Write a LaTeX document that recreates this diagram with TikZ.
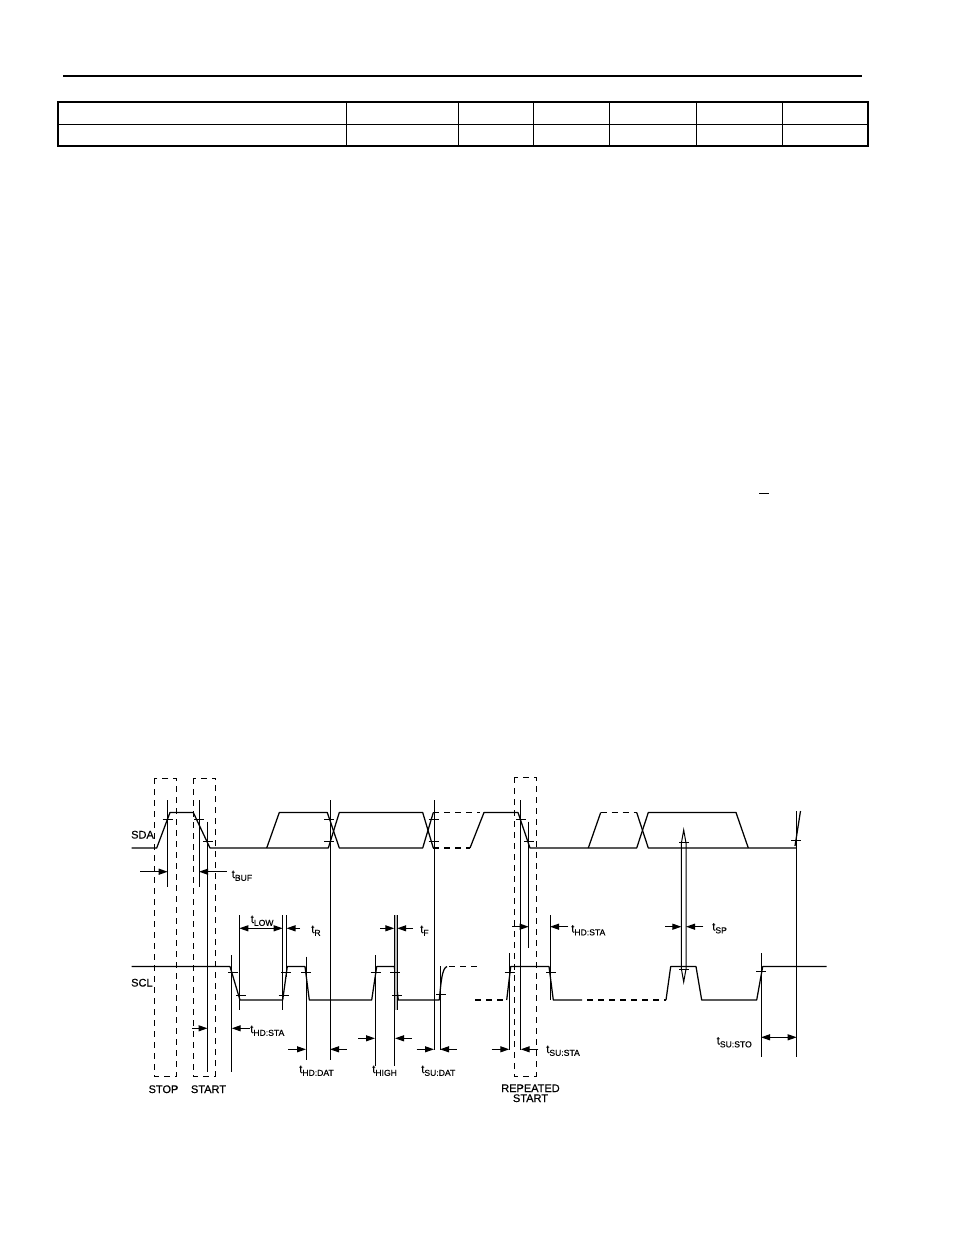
\documentclass[tikz,border=0pt]{standalone}
\usepackage{fontspec}
\setmainfont{Liberation Sans}
\newfontfamily\lblfont[FakeBold=0.4]{Liberation Sans}
\usetikzlibrary{arrows.meta}
\newcommand{\tlab}[1]{t\raisebox{-2.8pt}{\fontsize{8.6}{8.6}\selectfont #1}}
\begin{document}
\begin{tikzpicture}[x=1pt,y=-1pt,
 wave/.style={line width=1.25pt, line join=round},
 dwave/.style={line width=1.1pt, dash pattern=on 6pt off 5pt},
 vl/.style={line width=1pt},
 tickmk/.style={line width=1pt},
 dbox/.style={line width=1pt, dash pattern=on 6pt off 5pt},
 arr/.style={line width=1.1pt, -{Triangle[length=9pt,width=6pt]}},
 darr/.style={line width=1.1pt, {Triangle[length=9pt,width=6pt]}-{Triangle[length=9pt,width=6pt]}},
 lbl/.style={font=\lblfont\fontsize{11.5}{11.5}\selectfont, inner sep=0pt, anchor=base west},
 capt/.style={font=\lblfont\fontsize{11}{11}\selectfont, inner sep=0pt, anchor=base},
]
\useasboundingbox[fill=white] (0,0) rectangle (954,1235);

% header rule and empty table
\draw[line width=1.5pt] (63,76) -- (862,76);
\draw[line width=1.3pt] (58,102) rectangle (868,146);
\draw[line width=1pt] (58,124) -- (868,124);
\foreach \x in {346,458,533,609,696,782} \draw[line width=1pt] (\x,102) -- (\x,146);
\draw[line width=1pt] (759,493.5) -- (769,493.5);

% dashed boxes
\draw[dbox] (154,778) rectangle (176.7,1076);
\draw[dbox] (193.3,778) rectangle (215.5,1076);
\draw[dbox] (514.3,777) rectangle (536,1076);

% SDA
\draw[wave] (131.7,848) -- (156.7,848) -- (170,812.5) -- (193.3,812.5) -- (210,848) -- (328.3,848) -- (339.3,812.5) -- (422.7,812.5) -- (433.3,848);
\draw[wave] (266.7,848) -- (279.3,812.5) -- (327.3,812.5) -- (339.3,848) -- (422.7,848) -- (433.3,812.5);
\draw[dwave] (433.3,812.5) -- (480,812.5);
\draw[dwave] (433.3,848) -- (470,848);
\draw[wave] (470,848) -- (484,812.5) -- (518,812.5) -- (530,848) -- (636.7,848) -- (648.3,812.5) -- (736,812.5) -- (748.3,848);
\draw[wave] (588.3,848) -- (600.7,812.5);
\draw[dwave] (600.7,812.5) -- (636.7,812.5);
\draw[wave] (636.7,812.5) -- (648.3,848) -- (796.7,848);
\draw[wave] (795,846) -- (800.5,811);

% SCL
\draw[wave] (131.7,966.5) -- (230,966.5) -- (240,1000) -- (282.7,1000) -- (287.3,966.5) -- (305,966.5) -- (309.3,1000) -- (371.7,1000) -- (376.7,966.5) -- (394.3,966.5) -- (398.3,1000) -- (439.3,1000) .. controls (441,982) and (442,968) .. (447,966.5);
\draw[dwave] (449,966.5) -- (478,966.5);
\draw[dwave] (475,1000) -- (506.7,1000);
\draw[wave] (506.7,1000) -- (510.7,966.5) -- (549,966.5) -- (553.3,1000) -- (582,1000);
\draw[dwave] (587,1000) -- (666,1000);
\draw[wave] (666,1000) -- (670.7,966.5) -- (696,966.5) -- (701.7,1000) -- (756.7,1000) -- (762.7,966.5) -- (826.7,966.5);

% vertical reference lines
\fill[gray!55] (394.5,915) rectangle (397,1010);
\foreach \x/\a/\b in {167.7/800/887, 199/800/887, 207.5/821.7/1072, 231.7/955/1072, 239.3/915/1010, 282.7/915/1010, 286.3/915/977, 306/956.7/1060, 330/800/1060, 375/955/1066, 394.5/915/1066, 397/915/1010, 434/800/1050, 440/966/1050, 520.7/800/1050, 528.7/821.7/948, 550/915/1000, 761/953/1057, 796.7/811/1057}
  \draw[vl] (\x,\a) -- (\x,\b);
\draw[line width=1.5pt] (509.3,953) -- (509.3,1050);

% spike
\draw[line width=1pt, line join=miter] (683.7,830) -- (686,843) -- (686,969) -- (683.7,982) -- (681.4,969) -- (681.4,843) -- cycle;

% threshold ticks
\foreach \x/\y in {167.5/819.3, 199/819.3, 208/841.7, 329/819.3, 329/841.7, 433.5/819.3, 433.5/841.7, 521/819.3, 529/841.7, 684/842.7, 796/840,
  233.3/972.7, 241/995, 283.5/995, 286.3/972.7, 306/972.7, 375.5/972.7, 395/972.7, 397/995, 441/994, 509.5/972.7, 551/972.7, 684/969.3, 761/971.7}
  \draw[tickmk] (\x-5,\y) -- (\x+5,\y);

% timing arrows
\draw[arr] (140,871.7) -- (167.7,871.7);
\draw[arr] (226.7,871.7) -- (199,871.7);
\draw[darr] (239.3,928.3) -- (282.7,928.3);
\draw[arr] (300,928.3) -- (286.5,928.3);
\draw[arr] (192,1028.3) -- (207.5,1028.3);
\draw[arr] (250,1028.3) -- (231.7,1028.3);
\draw[arr] (288.3,1049.3) -- (306,1049.3);
\draw[arr] (346.7,1049.3) -- (330,1049.3);
\draw[arr] (358.3,1038.3) -- (375,1038.3);
\draw[arr] (411.7,1038.3) -- (395,1038.3);
\draw[arr] (380,928.3) -- (394.3,928.3);
\draw[arr] (413,928.3) -- (397.2,928.3);
\draw[arr] (416.7,1049.3) -- (434,1049.3);
\draw[arr] (456.7,1049.3) -- (440,1049.3);
\draw[arr] (491.7,1049.3) -- (509.3,1049.3);
\draw[arr] (538.3,1049.3) -- (520.7,1049.3);
\draw[arr] (512,926.7) -- (528.7,926.7);
\draw[arr] (568.3,926.7) -- (550,926.7);
\draw[arr] (665,926.7) -- (681.4,926.7);
\draw[arr] (703.3,926.7) -- (686,926.7);
\draw[darr] (761,1037.3) -- (796.7,1037.3);

% labels
\node[lbl] (tbuf) at (231.5,878) {\tlab{BUF}};
\node[lbl] (tlow) at (250.5,923) {\tlab{LOW}};
\node[lbl] (tr) at (311,933) {\tlab{R}};
\node[lbl] (tf) at (420,933) {\tlab{F}};
\node[lbl] (thdsta) at (250,1033) {\tlab{HD:STA}};
\node[lbl] (thddat) at (299,1073) {\tlab{HD:DAT}};
\node[lbl] (thigh) at (372,1073) {\tlab{HIGH}};
\node[lbl] (tsudat) at (421,1073) {\tlab{SU:DAT}};
\node[lbl] (tsusta) at (546,1053) {\tlab{SU:STA}};
\node[lbl] (thdsta2) at (571,932.5) {\tlab{HD:STA}};
\node[lbl] (tsp) at (712,930.5) {\tlab{SP}};
\node[lbl] (tsusto) at (716.5,1044.5) {\tlab{SU:STO}};
\node[capt, anchor=base west] (sda) at (131,838.5) {SDA};
\node[capt, anchor=base west] (scl) at (131,986.5) {SCL};
\node[capt] (stop) at (163.5,1093) {STOP};
\node[capt] (start) at (208.5,1093) {START};
\node[capt] (rep) at (530.5,1092) {REPEATED};
\node[capt] (rstart) at (530.5,1102) {START};
\end{tikzpicture}
\end{document}
